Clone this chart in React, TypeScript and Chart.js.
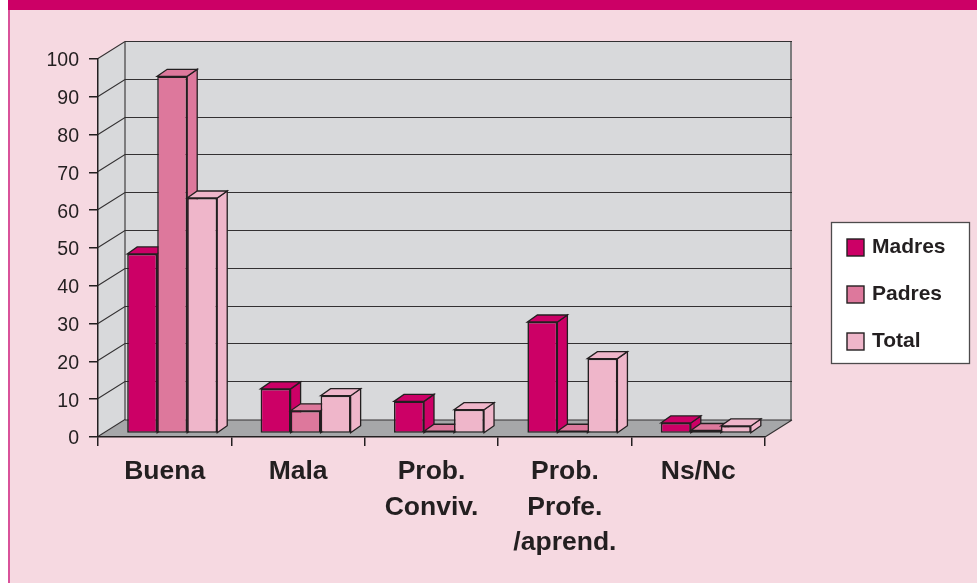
import React, { useEffect, useRef } from "react";
import { Chart, registerables } from "chart.js";

Chart.register(...registerables);

const categories = [["Buena"], ["Mala"], ["Prob.", "Conviv."], ["Prob.", "Profe.", "/aprend."], ["Ns/Nc"]];
const madres = [47.5, 11.8, 8.5, 29.5, 2.8];
const padres = [94.5, 6, 0.6, 0.6, 0.8];
const total = [62.3, 10, 6.3, 19.8, 2];

const INK = "#231f20";
const FONT = "'Liberation Sans', Arial, sans-serif";
const WALL_DX = 27;
const WALL_DY = 17;
const BAR_SHIFT_X = 7.5;
const BAR_SHIFT_Y = 3.5;
const BAR_DX = 10;
const BAR_DY = 7;

const poly = (ctx: CanvasRenderingContext2D, pts: number[][], fill: string | null, stroke: string | null, lw = 1) => {
  ctx.beginPath();
  pts.forEach(([x, y], i) => (i ? ctx.lineTo(x, y) : ctx.moveTo(x, y)));
  ctx.closePath();
  if (fill) {
    ctx.fillStyle = fill;
    ctx.fill();
  }
  if (stroke) {
    ctx.strokeStyle = stroke;
    ctx.lineWidth = lw;
    ctx.stroke();
  }
};

const scene3d = {
  id: "scene3d",
  beforeDraw(chart: any) {
    const { ctx, width, height, chartArea: a, scales } = chart;
    // value labels sit slightly lower than the tick marks in the reference
    scales.y.getLabelItems(a).forEach((item: any) => {
      if (!item.options.__shifted) {
        item.options = { ...item.options, translation: [item.options.translation[0], item.options.translation[1] + 2], __shifted: true };
      }
    });
    ctx.save();
    // page panel
    ctx.fillStyle = "#ffffff";
    ctx.fillRect(0, 0, width, height);
    ctx.fillStyle = "#f6d9e1";
    ctx.fillRect(8, 0, width - 8, height);
    ctx.fillStyle = "#d9529a";
    ctx.fillRect(8, 0, 2, height);
    ctx.fillStyle = "#cc0066";
    ctx.fillRect(8, 0, width - 8, 10);

    // walls and floor
    const l = a.left, r = a.right, t = a.top, b = a.bottom;
    const bl = l + WALL_DX, br = r + WALL_DX, bt = t - WALL_DY, bb = b - WALL_DY;
    poly(ctx, [[bl, bt], [br, bt], [br, bb], [bl, bb]], "#d8d9db", null);
    poly(ctx, [[l, t], [bl, bt], [bl, bb], [l, b]], "#d8d9db", null);
    poly(ctx, [[l, b], [bl, bb], [br, bb], [r, b]], "#a6a7a9", null);

    // gridlines on side and back wall, from the value scale's ticks
    ctx.strokeStyle = "#333132";
    ctx.lineWidth = 1.1;
    scales.y.ticks.forEach((tick: any) => {
      const y = Math.round(scales.y.getPixelForValue(tick.value)) - 0.5;
      ctx.beginPath();
      ctx.moveTo(l, y);
      ctx.lineTo(bl, y - WALL_DY);
      if (tick.value > 0) ctx.lineTo(br, y - WALL_DY);
      ctx.stroke();
    });
    ctx.beginPath();
    ctx.moveTo(bl, bt);
    ctx.lineTo(bl, bb);
    ctx.moveTo(br - 1, bt);
    ctx.lineTo(br - 1, bb);
    ctx.moveTo(bl, bb);
    ctx.lineTo(br, bb);
    ctx.moveTo(r, b);
    ctx.lineTo(br, bb);
    ctx.stroke();

    // legend box
    ctx.fillStyle = "#ffffff";
    ctx.fillRect(831.5, 222.5, 138, 141);
    ctx.strokeStyle = "#4d4b4c";
    ctx.lineWidth = 1.3;
    ctx.strokeRect(831.5, 222.5, 138, 141);
    ctx.restore();
  },
  beforeDatasetsDraw(chart: any) {
    const { ctx } = chart;
    ctx.save();
    ctx.translate(BAR_SHIFT_X, -BAR_SHIFT_Y);
    chart.data.datasets.forEach((ds: any, i: number) => {
      const meta = chart.getDatasetMeta(i);
      meta.data.forEach((bar: any) => {
        const p = bar.getProps(["x", "y", "base", "width"], true);
        const x0 = p.x - p.width / 2;
        const x1 = p.x + p.width / 2;
        poly(ctx, [[x1, p.y], [x1 + BAR_DX, p.y - BAR_DY], [x1 + BAR_DX, p.base - BAR_DY], [x1, p.base]], ds.backgroundColor, INK, 1.3);
        poly(ctx, [[x0, p.y], [x0 + BAR_DX, p.y - BAR_DY], [x1 + BAR_DX, p.y - BAR_DY], [x1, p.y]], ds.backgroundColor, INK, 1.3);
      });
      meta.controller.draw();
    });
    ctx.restore();
    return false;
  },
  afterDraw(chart: any) {
    const { ctx } = chart;
    ctx.save();
    ctx.font = `bold 21px ${FONT}`;
    ctx.textBaseline = "middle";
    ctx.textAlign = "left";
    chart.data.datasets.forEach((ds: any, i: number) => {
      const y = 239 + i * 47;
      ctx.fillStyle = ds.backgroundColor;
      ctx.strokeStyle = INK;
      ctx.lineWidth = 1.4;
      ctx.fillRect(847, y, 17, 17);
      ctx.strokeRect(847, y, 17, 17);
      ctx.fillStyle = INK;
      ctx.fillText(ds.label, 872, y + 8.5);
    });
    ctx.restore();
  },
};

export default function App() {
  const ref = useRef<HTMLCanvasElement>(null);
  useEffect(() => {
    const bar = { borderColor: INK, borderWidth: 1.6, borderSkipped: false };
    const chart = new Chart(ref.current!, {
      type: "bar",
      data: {
        labels: categories as any,
        datasets: [
          { label: "Madres", data: madres, backgroundColor: "#cc0066", ...bar },
          { label: "Padres", data: padres, backgroundColor: "#dd789c", ...bar },
          { label: "Total", data: total, backgroundColor: "#efb6ca", ...bar },
        ],
      },
      plugins: [scene3d],
      options: {
        responsive: false,
        animation: false,
        events: [],
        layout: { padding: { left: 0, top: 59, right: 212, bottom: 0 } },
        plugins: { legend: { display: false }, tooltip: { enabled: false }, title: { display: false } },
        datasets: { bar: { categoryPercentage: 0.675, barPercentage: 1 } },
        scales: {
          x: {
            afterFit: (s: any) => {
              s.height = 146;
            },
            border: { display: true, color: INK, width: 1.5 },
            grid: { drawOnChartArea: false, drawTicks: true, tickLength: 9, color: INK, lineWidth: 1.5, offset: true },
            ticks: {
              autoSkip: false,
              maxRotation: 0,
              minRotation: 0,
              padding: 8,
              color: INK,
              font: { family: FONT, size: 26.5, weight: "bold", lineHeight: 1.34 },
            },
          },
          y: {
            min: 0,
            max: 100,
            afterFit: (s: any) => {
              s.width = 98;
            },
            border: { display: true, color: INK, width: 1.5 },
            grid: { drawOnChartArea: false, drawTicks: true, tickLength: 9, color: INK, lineWidth: 1.5 },
            ticks: {
              stepSize: 10,
              padding: 10,
              color: INK,
              font: { family: FONT, size: 19.5 },
            },
          },
        },
      } as any,
    });
    return () => chart.destroy();
  }, []);
  return (
    <div style={{ position: "absolute", left: 0, top: 0, width: 977, height: 583 }}>
      <canvas ref={ref} width={977} height={583} style={{ display: "block" }} />
    </div>
  );
}
